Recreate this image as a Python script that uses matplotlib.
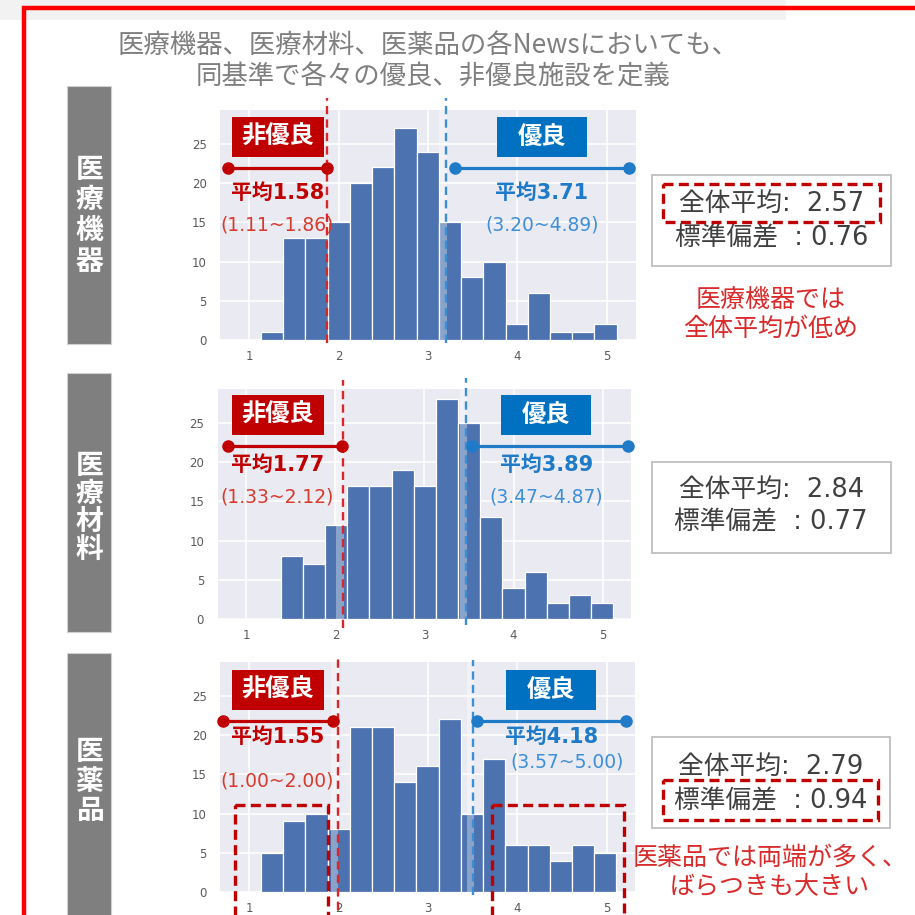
import matplotlib
matplotlib.use('Agg')
import matplotlib.pyplot as plt
import matplotlib.transforms as mtransforms
from matplotlib.patches import Rectangle
from matplotlib.lines import Line2D
import numpy as np

plt.rcParams['font.family'] = ['Noto Sans CJK JP', 'DejaVu Sans']
NUMFAM = ['DejaVu Sans', 'Noto Sans CJK JP']

# ---------------- data ----------------
categories = ['医療機器', '医療材料', '医薬品']
counts_kiki = [1, 13, 13, 15, 20, 22, 27, 24, 15, 8, 10, 2, 6, 1, 1, 2]
counts_zairyo = [8, 7, 12, 17, 17, 19, 17, 28, 25, 13, 4, 6, 2, 3, 2]
counts_yakuhin = [5, 9, 10, 8, 21, 21, 14, 16, 22, 10, 17, 6, 6, 4, 6, 5]
bin_lo = [1.134, 1.385, 1.134]
bin_hi = [5.108, 5.12, 5.108]
poor_mean = [1.58, 1.77, 1.55]
poor_lo = [1.11, 1.33, 1.00]
poor_hi = [1.86, 2.12, 2.00]
good_mean = [3.71, 3.89, 4.18]
good_lo = [3.20, 3.47, 3.57]
good_hi = [4.89, 4.87, 5.00]
poor_threshold = [1.87, 2.08, 1.99]
good_threshold = [3.20, 3.47, 3.51]
overall_mean = [2.57, 2.84, 2.79]
overall_std = [0.76, 0.77, 0.94]
comments = ['医療機器では\n全体平均が低め', '', '医薬品では両端が多く、\nばらつきも大きい']
x_ticks = [1, 2, 3, 4, 5]
y_ticks = [0, 5, 10, 15, 20, 25]
title_lines = ['医療機器、医療材料、医薬品の各Newsにおいても、', '同基準で各々の優良、非優良施設を定義']

all_counts = [counts_kiki, counts_zairyo, counts_yakuhin]

# ---------------- colours ----------------
RED = '#C00000'
BLUE = '#0070C0'
RED_LINE = '#D9262B'
BLUE_LINE = '#3A8FD6'
BAR = '#4C72B0'
CMT = '#D92B2B'

W = 915
fig = plt.figure(figsize=(9.15, 9.15), dpi=100)
pix = mtransforms.Affine2D().scale(1 / W, -1 / W).translate(0, 1) + fig.transFigure


def rect(x0, y0, x1, y1, **kw):
    r = Rectangle((x0, y0), x1 - x0, y1 - y0, transform=pix, **kw)
    fig.add_artist(r)
    return r


def text(x, y, s, **kw):
    kw.setdefault('ha', 'center')
    kw.setdefault('va', 'center')
    return fig.text(x, y, s, transform=pix, **kw)


# background decorations
rect(0, 0, 786, 20, facecolor='#F2F2F2', edgecolor='none', zorder=0)
fig.add_artist(Line2D([24, 24, 940], [940, 8, 8], transform=pix, color='#FF0000', lw=3.2,
                      solid_joinstyle='miter', zorder=5))

text(428, 45, title_lines[0], fontsize=19, color='#7F7F7F')
text(433, 77, title_lines[1], fontsize=19, color='#7F7F7F')

# ---------------- layout (pixels) ----------------
ax_px = [(220.4, 635.6, 340), (218.0, 631.0, 619), (220.4, 635.3, 892)]
AX_H = 230
side_box = [(86, 344), (373, 632), (653, 940)]
side_char_y = [(170, 30.5), (466, 28), (752, 29.5)]
vline_red = [(98, 343), (380, 628), (657, 910)]
vline_blue = [(98, 343), (378, 625), (660, 895)]
strip_red = [False, True, True]
lab_y = [(137, 193, 225), (415, 465, 497), (690, 737, 781)]
poor_box_x = [277.5, 277.5, 277.5]
good_box_x = [542, 546, 551]
good_mean_xy = [(541.7, 193), (546.7, 465), (551.7, 737)]
good_rng_xy = [(542.5, 225), (545.8, 497), (567.5, 762)]
seg_y = [167.7, 446, 720.7]
seg_red = [(228, 327), (228.3, 342.3), (222.7, 333.3)]
seg_blue = [(455, 629.3), (472.3, 628.3), (476.7, 626)]
stat_box = [(651.7, 175, 890.7, 266), (651.7, 462, 890.7, 553), (651.7, 737, 890.0, 828)]
stat_line_y = [(204, 238), (490, 522), (767, 801)]
stat_hl = [(662.7, 184, 880, 222), None, (663, 780, 878, 820)]
cmt_y = [(300, 329), None, (858, 886)]

for i in range(3):
    l, r, b = ax_px[i]
    ax = fig.add_axes([l / W, 1 - b / W, (r - l) / W, AX_H / W])
    ax.set_facecolor('#EAEAF2')
    for s in ax.spines.values():
        s.set_visible(False)
    ax.set_axisbelow(True)
    ax.grid(True, color='white', lw=1.1)
    cnt = all_counts[i]
    edges = np.linspace(bin_lo[i], bin_hi[i], len(cnt) + 1)
    ax.bar(edges[:-1], cnt, width=np.diff(edges), align='edge', color=BAR,
           edgecolor='white', lw=0.9, zorder=2)
    ax.set_xlim(0.68, 5.32)
    ax.set_ylim(0, 29.3)
    ax.set_xticks(x_ticks)
    ax.set_yticks(y_ticks)
    ax.tick_params(length=0, labelsize=8.5, labelcolor='#5A5A5A')
    ax.tick_params(axis='y', pad=10)
    ax.tick_params(axis='x', pad=7)
    for lab in ax.get_xticklabels() + ax.get_yticklabels():
        lab.set_family('DejaVu Sans')

    # translucent strips next to thresholds
    ths = [good_threshold[i]] + ([poor_threshold[i]] if strip_red[i] else [])
    for th in ths:
        ax.axvspan(th - 0.075, th + 0.01, color='white', alpha=0.35, lw=0, zorder=3)

    # threshold lines
    for th, (yt, yb), col in ((poor_threshold[i], vline_red[i], RED_LINE),
                              (good_threshold[i], vline_blue[i], BLUE_LINE)):
        ax.axvline(th, ymin=(b - yb) / AX_H, ymax=(b - yt) / AX_H, color=col,
                   lw=1.7, ls=(0, (3.5, 2.2)), clip_on=False, zorder=6)

    # side category box
    y0, y1 = side_box[i]
    rect(67.3, y0, 111, y1, facecolor='#7F7F7F', edgecolor='#D0D0D0', lw=0.8, zorder=1)
    cy, step = side_char_y[i]
    for k, ch in enumerate(categories[i]):
        text(89.5, cy + k * step, ch, fontsize=20, color='white', fontweight='bold', zorder=7)

    # labels
    by, my, ry = lab_y[i]
    rect(poor_box_x[i] - 46, by - 20, poor_box_x[i] + 46, by + 20, facecolor=RED,
         edgecolor='none', zorder=7)
    text(poor_box_x[i], by, '非優良', fontsize=17.5, color='white', fontweight='bold', zorder=8)
    rect(good_box_x[i] - 45, by - 20, good_box_x[i] + 45, by + 20, facecolor=BLUE,
         edgecolor='none', zorder=7)
    text(good_box_x[i], by, '優良', fontsize=17.5, color='white', fontweight='bold', zorder=8)

    text(poor_box_x[i], my, f'平均{poor_mean[i]:.2f}', fontsize=15, color=RED,
         fontweight='bold', family=NUMFAM, zorder=8)
    text(poor_box_x[i], ry, f'({poor_lo[i]:.2f}~{poor_hi[i]:.2f})', fontsize=13.5,
         color='#D83A2E', family=NUMFAM, zorder=8)
    text(*good_mean_xy[i], f'平均{good_mean[i]:.2f}', fontsize=15, color='#1F7BC8',
         fontweight='bold', family=NUMFAM, zorder=8)
    text(*good_rng_xy[i], f'({good_lo[i]:.2f}~{good_hi[i]:.2f})', fontsize=13.5,
         color='#3D8FD8', family=NUMFAM, zorder=8)

    # range segments
    sy = seg_y[i]
    fig.add_artist(Line2D(list(seg_red[i]), [sy, sy], transform=pix, color=RED, lw=2.3,
                          marker='o', ms=8, zorder=8))
    fig.add_artist(Line2D(list(seg_blue[i]), [sy, sy], transform=pix, color='#1F7BC8', lw=2.3,
                          marker='o', ms=8, zorder=8))

    # statistics box
    x0, y0, x1, y1 = stat_box[i]
    rect(x0, y0, x1, y1, facecolor='white', edgecolor='#BFBFBF', lw=1.3, zorder=4)
    cx = (x0 + x1) / 2
    ya, yb2 = stat_line_y[i]
    text(cx, ya, f'全体平均:  {overall_mean[i]:.2f}', fontsize=18.5, color='#404040',
         family=NUMFAM, zorder=6)
    text(cx, yb2, f'標準偏差  : {overall_std[i]:.2f}', fontsize=18.5, color='#404040',
         family=NUMFAM, zorder=6)
    if stat_hl[i] is not None:
        hx0, hy0, hx1, hy1 = stat_hl[i]
        rect(hx0, hy0, hx1, hy1, facecolor='none', edgecolor=RED, lw=2.4,
             ls=(0, (3, 1.6)), zorder=7)
    if comments[i]:
        l1, l2 = comments[i].split('\n')
        c1, c2 = cmt_y[i]
        text(cx - 1, c1, l1, fontsize=18, color=CMT, zorder=6)
        text(cx - 1, c2, l2, fontsize=18, color=CMT, zorder=6)

# highlight boxes in third panel
rect(235, 805, 328.3, 935, facecolor='none', edgecolor=RED, lw=2.4, ls=(0, (3, 1.6)), zorder=9)
rect(492.3, 805, 624, 935, facecolor='none', edgecolor=RED, lw=2.4, ls=(0, (3, 1.6)), zorder=9)

fig.savefig('out.png', dpi=100, facecolor='white')
